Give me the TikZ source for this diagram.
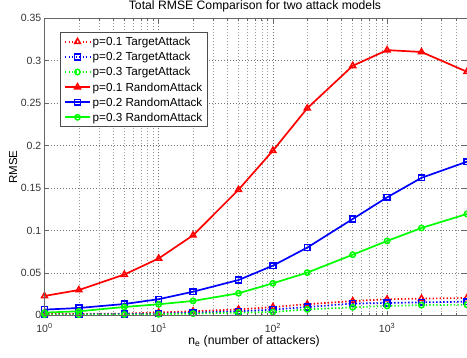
\documentclass[tikz,border=0pt]{standalone}
\usepackage{fontspec}
\setmainfont{Liberation Sans}
\usetikzlibrary{plotmarks}
\begin{document}
\begin{tikzpicture}[x=1pt,y=-1pt,
  gridmajor/.style={black!55, line width=0.6pt, dash pattern=on 0.9pt off 2.1pt},
  gridminor/.style={black!40, line width=0.6pt, dash pattern=on 0.9pt off 2.1pt},
  axisline/.style={black!60, line width=0.7pt},
  ticklabel/.style={black!80, font=\fontsize{10.5}{12}\selectfont},
  tgt/.style={line width=1.7pt, dash pattern=on 1.4pt off 2.1pt, mark options={solid, line width=1.5pt}},
  rnd/.style={line width=1.7pt, mark options={solid, line width=1.5pt}},
  redser/.style={red, mark=triangle, mark size=3.4pt},
  blueser/.style={blue, mark=square, mark size=2.9pt},
  greenser/.style={green, mark=o, mark size=2.7pt},
  legtext/.style={anchor=base west, inner sep=0pt, font=\fontsize{11.7}{13}\selectfont}]
\useasboundingbox (0,0) rectangle (467,358);
\fill[white] (0,0) rectangle (467,358);

% plot frame: x = 44.5 + 114.2*log10(n), y = 315.3 - 848.6*RMSE
\begin{scope}[shift={(44.5,315.3)}, x=114.2pt, y=848.6pt]
  % grid
  \foreach \v in {0.05,0.1,0.15,0.2,0.25,0.3}
    \draw[gridmajor] (0,\v) -- (3.69897,\v);
  \foreach \l in {0.30103,0.47712,0.60206,0.69897,0.77815,0.84510,0.90309,0.95424}{
    \draw[gridminor] (\l,0) -- (\l,0.35);
    \draw[gridminor] (\l+1,0) -- (\l+1,0.35);
    \draw[gridminor] (\l+2,0) -- (\l+2,0.35);
  }
  \foreach \l in {3.30103,3.47712,3.60206}
    \draw[gridminor] (\l,0) -- (\l,0.35);
  \foreach \l in {1,2,3}
    \draw[gridmajor] (\l,0) -- (\l,0.35);

  % targeted attack curves
  \draw[tgt, redser] plot coordinates {(0,0.0015) (0.30103,0.0016) (0.69897,0.002) (1,0.0033) (1.30103,0.0047) (1.69897,0.007) (2,0.0098) (2.30103,0.013) (2.69897,0.0168) (3,0.0189) (3.30103,0.0197) (3.69897,0.0204)};
  \draw[tgt, blueser] plot coordinates {(0,0.001) (0.30103,0.001) (0.69897,0.0015) (1,0.002) (1.30103,0.003) (1.69897,0.0047) (2,0.0067) (2.30103,0.0098) (2.69897,0.0138) (3,0.0145) (3.30103,0.0153) (3.69897,0.016)};
  \draw[tgt, greenser] plot coordinates {(0,0.0008) (0.30103,0.0008) (0.69897,0.001) (1,0.0012) (1.30103,0.002) (1.69897,0.003) (2,0.0039) (2.30103,0.007) (2.69897,0.0094) (3,0.011) (3.30103,0.012) (3.69897,0.0124)};

  % random attack curves
  \draw[rnd, redser] plot coordinates {(0,0.0228) (0.30103,0.0298) (0.69897,0.048) (1,0.067) (1.30103,0.0943) (1.69897,0.148) (2,0.194) (2.30103,0.244) (2.69897,0.294) (3,0.3125) (3.30103,0.3103) (3.69897,0.287)};
  \draw[rnd, blueser] plot coordinates {(0,0.0067) (0.30103,0.0086) (0.69897,0.0133) (1,0.019) (1.30103,0.0278) (1.69897,0.0416) (2,0.0585) (2.30103,0.0798) (2.69897,0.1135) (3,0.139) (3.30103,0.162) (3.69897,0.181)};
  \draw[rnd, greenser] plot coordinates {(0,0.0032) (0.30103,0.0047) (0.69897,0.0098) (1,0.013) (1.30103,0.0169) (1.69897,0.026) (2,0.0377) (2.30103,0.0503) (2.69897,0.0714) (3,0.0876) (3.30103,0.1029) (3.69897,0.1194)};

  % frame and ticks
  \draw[axisline] (0,0) rectangle (3.69897,0.35);
  \foreach \v in {0.05,0.1,0.15,0.2,0.25,0.3}{
    \draw[axisline] (0,\v) -- ++(4.5pt,0);
    \draw[axisline] (3.69897,\v) -- ++(-4.5pt,0);
  }
  \foreach \l in {1,2,3}{
    \draw[axisline] (\l,0) -- ++(0,4.5pt);
    \draw[axisline] (\l,0.35) -- ++(0,-4.5pt);
  }
  \foreach \l in {0.30103,0.47712,0.60206,0.69897,0.77815,0.84510,0.90309,0.95424}{
    \foreach \k in {0,1,2}{
      \draw[axisline] (\l+\k,0) -- ++(0,2.5pt);
      \draw[axisline] (\l+\k,0.35) -- ++(0,-2.5pt);
    }
  }
  \foreach \l in {3.30103,3.47712,3.60206}{
    \draw[axisline] (\l,0) -- ++(0,2.5pt);
    \draw[axisline] (\l,0.35) -- ++(0,-2.5pt);
  }

  % tick labels
  \foreach \v/\t in {0/0,0.05/0.05,0.1/0.1,0.15/0.15,0.2/0.2,0.25/0.25,0.3/0.3,0.35/0.35}
    \node[ticklabel, anchor=east, inner sep=0pt] at ([xshift=-3pt]0,\v) {\t};
  \foreach \l in {0,1,2,3}
    \node[ticklabel, anchor=base, inner sep=0pt] at ([yshift=-17pt]\l,0) {10\textsuperscript{\l}};
\end{scope}

% titles
\node[anchor=base, inner sep=0pt, font=\fontsize{12.2}{14}\selectfont] (title) at (255,10) {Total RMSE Comparison for two attack models};
\node[anchor=base, inner sep=0pt, font=\fontsize{12.2}{14}\selectfont] (xlab) at (254,345) {n\textsubscript{e} (number of attackers)};
\node[anchor=base, inner sep=0pt, rotate=90, font=\fontsize{11.5}{14}\selectfont] (ylab) at (17,167) {RMSE};

% legend
\draw[black!70, fill=white, line width=0.6pt] (60.3,32.3) rectangle (207.7,126.7);
\foreach \i/\sty/\ser/\txt in {0/tgt/redser/p=0.1 TargetAttack, 1/tgt/blueser/p=0.2 TargetAttack, 2/tgt/greenser/p=0.3 TargetAttack, 3/rnd/redser/p=0.1 RandomAttack, 4/rnd/blueser/p=0.2 RandomAttack, 5/rnd/greenser/p=0.3 RandomAttack}{
  \draw[\sty, \ser, mark indices={2}] plot coordinates {(65,{41.8+15.1*\i}) (77.5,{41.8+15.1*\i}) (90,{41.8+15.1*\i})};
  \node[legtext] at (92.5,{45.8+15.1*\i}) {\txt};
}
\end{tikzpicture}
\end{document}
